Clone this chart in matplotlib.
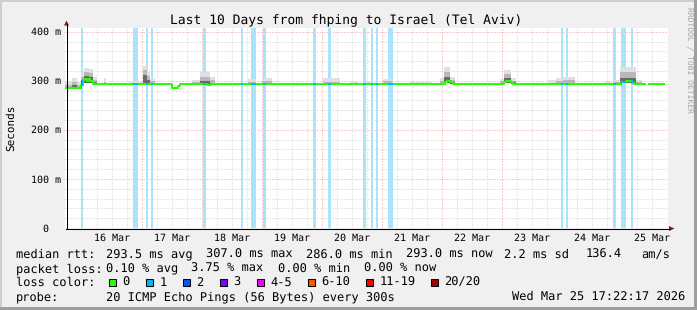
import numpy as np
import matplotlib
matplotlib.use("Agg")
import matplotlib.pyplot as plt
from matplotlib.patches import Rectangle, Polygon
from matplotlib.lines import Line2D
import matplotlib.transforms as mtransforms

plt.rcParams["text.hinting"] = "no_hinting"
plt.rcParams["text.hinting_factor"] = 1

W, H = 697, 310
MONO = "DejaVu Sans Mono"

# ---------------- data ----------------
title = "Last 10 Days from fhping to Israel (Tel Aviv)"
y_label = "Seconds"
side_text = "RRDTOOL / TOBI OETIKER"

t_start, t_end = 15.724, 25.724          # day-of-March (fractional)
day_ticks = list(range(16, 26))          # midnights
day_labels = [f"{d} Mar" for d in day_ticks]
y_ticks = [0, 100, 200, 300, 400]
y_tick_labels = ["0", "100 m", "200 m", "300 m", "400 m"]

# median RTT (ms), step series
median_t = [15.724, 15.983, 16.017, 16.050, 16.083, 16.100, 16.133, 16.183,
            17.500, 17.600, 17.633, 18.083, 18.150, 22.050, 22.083, 22.150,
            22.183, 23.033, 23.067, 23.150, 23.183, 24.983, 25.067, 25.167,
            25.200, 25.400, 25.433, 25.724]
median_v = [286, 292, 301, 303, 300, 303, 300, 293,
            286, 289, 293, 291, 293, 297, 300, 297,
            293, 297, 299, 297, 293, 297, 300, 296,
            293, np.nan, 293, 293]

# periods with packet loss (1 of 20)
loss_start = [15.983, 16.850, 17.067, 17.150, 18.017, 18.650, 18.817, 19.017,
              19.850, 20.100, 20.683, 20.817, 20.900, 21.100, 23.983, 24.067,
              24.850, 24.983, 25.150]
loss_end = [16.017, 16.933, 17.100, 17.183, 18.067, 18.683, 18.900, 19.067,
            19.900, 20.150, 20.733, 20.850, 20.933, 21.183, 24.017, 24.100,
            24.900, 25.067, 25.183]

# smoke (ping spread, ms), step series
smoke_t = [15.724, 15.833, 15.917, 15.983, 16.033, 16.117, 16.183, 16.250, 16.367, 16.400,
           16.800, 17.017, 17.083, 17.133, 17.217, 17.833, 17.967, 18.133, 18.217, 18.767,
           18.900, 19.000, 19.167, 20.017, 20.300, 20.467, 20.600, 20.733, 20.833, 21.017,
           21.167, 21.467, 21.833, 21.967, 22.033, 22.133, 22.217, 22.550, 22.883, 22.967,
           23.033, 23.150, 23.233, 23.767, 23.900, 24.017, 24.217, 24.717, 24.833, 24.867,
           24.967, 25.233, 25.333]
smoke_lo = [286, 286, 286, 290, 296, 296, 293, 293, 293, 293,
            293, 296, 295, 293, 293, 293, 293, 293, 293, 293,
            293, 293, 293, 293, 293, 293, 293, 293, 293, 293,
            293, 293, 293, 293, 295, 293, 293, 293, 293, 293,
            295, 293, 293, 293, 293, 293, 293, 293, 293, 293,
            295, 293, 293]
smoke_hi = [299, 306, 298, 316, 327, 324, 308, 293, 305, 293,
            300, 331, 318, 303, 293, 302, 317, 308, 293, 303,
            293, 306, 293, 305, 293, 299, 293, 299, 293, 303,
            293, 297, 293, 305, 328, 308, 293, 296, 293, 303,
            322, 305, 293, 302, 305, 307, 293, 298, 293, 301,
            328, 302, 293]
smoke_mid = [292, 298, 292, 308, 318, 315, 302, 293, 298, 293,
             296, 322, 310, 299, 293, 297, 308, 301, 293, 297,
             293, 300, 293, 298, 293, 295, 293, 295, 293, 299,
             293, 294, 293, 300, 318, 302, 293, 294, 293, 299,
             314, 300, 293, 296, 299, 301, 293, 295, 293, 297,
             318, 297, 293]
smoke_core = [288, 292, 288, 302, 310, 307, 297, 293, 293, 293,
              293, 312, 302, 296, 293, 293, 300, 296, 293, 293,
              293, 296, 293, 293, 293, 293, 293, 293, 293, 296,
              293, 293, 293, 296, 308, 298, 293, 293, 293, 296,
              306, 297, 293, 293, 295, 296, 293, 293, 293, 294,
              306, 294, 293]

# legend
rtt_stats = ["293.5 ms avg", "307.0 ms max", "286.0 ms min", "293.0 ms now", "2.2 ms sd", "136.4", "am/s"]
loss_stats = ["0.10 % avg", "3.75 % max", "0.00 % min", "0.00 % now"]
loss_labels = ["0", "1", "2", "3", "4-5", "6-10", "11-19", "20/20"]
loss_colors = ["#26ff00", "#00b8ff", "#0059ff", "#7e00ff", "#ff00ff", "#ff5500", "#ff0000", "#a00000"]
probe_text = "20 ICMP Echo Pings (56 Bytes) every 300s"
stamp_text = "Wed Mar 25 17:22:17 2026"

# ---------------- figure ----------------
fig = plt.figure(figsize=(W / 100, H / 100), dpi=100, facecolor="#f0f0f0")
pxT = mtransforms.Affine2D().scale(1.0 / W, -1.0 / H).translate(0, 1) + fig.transFigure

ax_l, ax_r, ax_t, ax_b = 65.4, 668.0, 28.3, 228.0
px_per_day = 60.0
px_per_ms = 0.49075
ax = fig.add_axes([ax_l / W, 1 - ax_b / H, (ax_r - ax_l) / W, (ax_b - ax_t) / H])
ax.set_facecolor("white")
ax.set_xlim(t_start, t_start + (ax_r - ax_l) / px_per_day)
ax.set_ylim(0, (ax_b - ax_t) / px_per_ms)
ax.set_xticks([])
ax.set_yticks([])
for s in ax.spines.values():
    s.set_visible(False)

dot = (0, (1, 2))
minor_col = "#cfcfcf"
major_col = "#ee9a9a"
for x in np.arange(15.75, t_end + 0.01, 0.25):
    if abs(x - round(x)) > 1e-6:
        ax.axvline(x, color=minor_col, lw=0.72, ls=dot, zorder=1)
for d in day_ticks:
    ax.axvline(d, color=major_col, lw=0.72, ls=dot, zorder=1)
for v in range(20, 401, 20):
    ax.axhline(v, color=major_col if v % 100 == 0 else minor_col, lw=0.72, ls=dot, zorder=1)

# loss background bands
for s, e in zip(loss_start, loss_end):
    ax.axvspan(s, e, color="#a9e4f8", lw=0, zorder=2)

# smoke
ax.fill_between(smoke_t, smoke_lo, smoke_hi, step="post", color="#e0e0e0", lw=0, zorder=3)
ax.fill_between(smoke_t, smoke_lo, smoke_mid, step="post", color="#b8b8b8", lw=0, zorder=3.5)
ax.fill_between(smoke_t, smoke_lo, smoke_core, step="post", color="#6a6a6a", lw=0, zorder=4)

# median line
ax.plot(median_t, median_v, drawstyle="steps-post", color=loss_colors[0], lw=1.44,
        solid_capstyle="butt", zorder=5)
for s, e in zip(loss_start, loss_end):
    ln, = ax.plot(median_t, median_v, drawstyle="steps-post", color=loss_colors[1], lw=1.44,
                  solid_capstyle="butt", zorder=6)
    clip = Rectangle((s, 0), e - s, 500, transform=ax.transData)
    ln.set_clip_path(clip)

# axes lines and arrows
fig.add_artist(Line2D([66.5, 66.5], [228.5, 24], transform=pxT, color="black", lw=0.75))
fig.add_artist(Polygon([[64.0, 25.5], [69.0, 25.5], [66.5, 20.5]], closed=True,
                       transform=pxT, color="#8b1a1a", lw=0))
fig.add_artist(Line2D([66, 670], [228.5, 228.5], transform=pxT, color="black", lw=0.75))
fig.add_artist(Polygon([[669.0, 226.0], [669.0, 231.0], [674.5, 228.5]], closed=True,
                       transform=pxT, color="#8b1a1a", lw=0))

# tick labels
xlab_T = mtransforms.blended_transform_factory(ax.transData, pxT)
for d, lab in zip(day_ticks, day_labels):
    ax.text(d + 0.5, 240.5, lab, transform=xlab_T, ha="center", va="baseline",
            family=MONO, fontsize=7.4, color="black", clip_on=False)
ylab_T = mtransforms.blended_transform_factory(
    pxT, ax.transData + mtransforms.ScaledTranslation(0, -3.5 / 100, fig.dpi_scale_trans))
for v, lab in zip(y_ticks, y_tick_labels):
    xr = 61.5 if v else 48.0
    ax.text(xr, v, lab, transform=ylab_T, ha="right", va="baseline",
            family=MONO, fontsize=7.4, color="black", clip_on=False)

# titles
fig.text(346.5, 24, title, transform=pxT, ha="center", va="baseline", family=MONO,
         fontsize=9.6, color="black")
fig.text(11, 128, y_label, transform=pxT, ha="center", va="center", rotation=90,
         family=MONO, fontsize=8, color="black")
fig.text(689, 60, side_text, transform=pxT, ha="center", va="center", rotation=270,
         family=MONO, fontsize=6, color="#a6a6a6")

# legend
fs = 8.4
def put(x, y, s):
    fig.text(x, y, s, transform=pxT, ha="left", va="baseline", family=MONO, fontsize=fs, color="black")

put(15.5, 258.3, "median rtt:")
for x, s in zip([106.3, 206.3, 306.3, 406.3, 504.3, 585.5, 641.3], rtt_stats):
    put(x, 258.3, s)
put(15.5, 272.3, "packet loss:")
for x, s in zip([106.3, 191.3, 278.3, 364.3], loss_stats):
    put(x, 272.3, s)
put(15.5, 286.3, "loss color:")
bx = 108.0
for lab, col in zip(loss_labels, loss_colors):
    fig.add_artist(Rectangle((bx + 0.5, 278.5), 7, 7, transform=pxT, facecolor=col,
                             edgecolor="black", lw=0.75))
    put(bx + 14.5, 286.3, lab)
    bx += 30 + 7 * len(lab)
put(15.5, 300.3, "probe:")
put(106.3, 300.3, probe_text)
put(511.5, 300.3, stamp_text)

# frame
fig.add_artist(Rectangle((0, 0), W, 1.5, transform=pxT, color="#cfcfcf", lw=0))
fig.add_artist(Rectangle((0, 0), 1.5, H, transform=pxT, color="#cfcfcf", lw=0))
fig.add_artist(Rectangle((694, 0), 3, H, transform=pxT, color="#9e9e9e", lw=0))
fig.add_artist(Rectangle((0, 307), W, 3, transform=pxT, color="#9e9e9e", lw=0))

fig.savefig("out.png", dpi=100, facecolor=fig.get_facecolor())
